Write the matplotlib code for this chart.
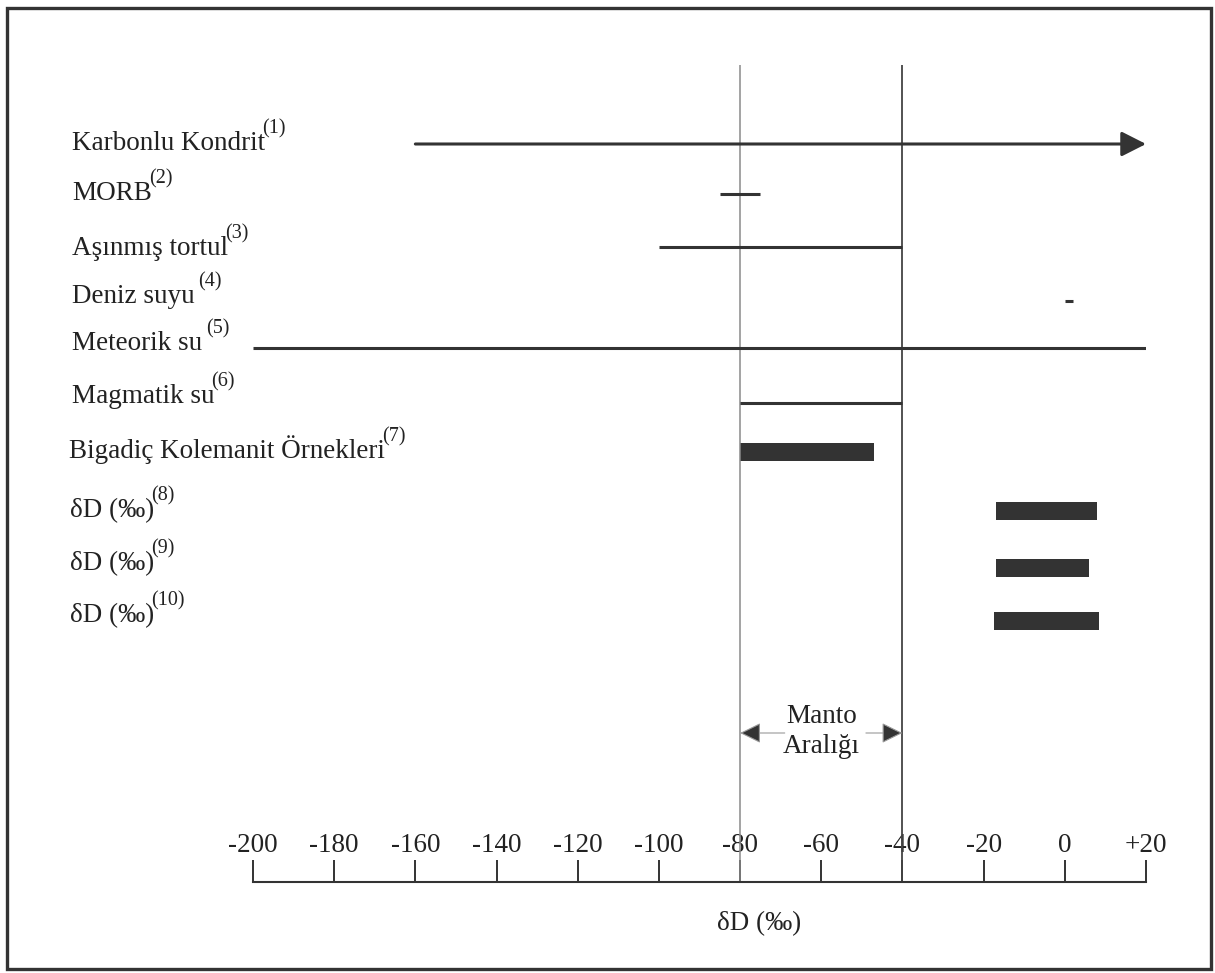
import matplotlib.pyplot as plt
from matplotlib.patches import Rectangle

plt.rcParams['font.family'] = ['Liberation Serif', 'DejaVu Serif']

# data (dD per mil ranges)
names = ['Karbonlu Kondrit', 'MORB', 'Aşınmış tortul', 'Deniz suyu ', 'Meteorik su ',
         'Magmatik su', 'Bigadiç Kolemanit Örnekleri', 'δD (‰)', 'δD (‰)', 'δD (‰)']
refs = ['(1)', '(2)', '(3)', '(4)', '(5)', '(6)', '(7)', '(8)', '(9)', '(10)']
low = [-160, -85, -100, 0, -200, -80, -80, -17, -17, -17.5]
high = [20, -75, -40, 2, 20, -40, -47, 8, 6, 8.5]
kind = ['arrow', 'line', 'line', 'line', 'line', 'line', 'bar', 'bar', 'bar', 'bar']
ticks = [-200, -180, -160, -140, -120, -100, -80, -60, -40, -20, 0, 20]
tick_labels = ['-200', '-180', '-160', '-140', '-120', '-100', '-80', '-60', '-40', '-20', '0', '+20']
mantle = [-80, -40]

# layout (pixel rows, top = 0)
W, H = 1215, 973
row_y = [144, 194, 247, 301, 348, 403, 452, 511, 568, 621]
text_y = [150, 200, 255, 303, 350, 403, 458, 517, 570, 622]
text_x = [72, 72, 72, 72, 72, 72, 69, 70, 70, 70]
top_px, base_px = 65, 882
left_px, right_px = 253, 1146
dark = '#333333'
txt = '#222222'
fs = 19.5

fig = plt.figure(figsize=(W / 100, H / 100), dpi=100)
ax = fig.add_axes([left_px / W, (H - base_px) / H, (right_px - left_px) / W,
                   (base_px - top_px) / H])
ax.set_xlim(-200, 20)
ax.set_ylim(base_px, top_px)
for s in ['top', 'left', 'right']:
    ax.spines[s].set_visible(False)
ax.spines['bottom'].set_linewidth(1.5)
ax.spines['bottom'].set_color(dark)
ax.set_yticks([])
ax.set_xticks(ticks, tick_labels)
ax.tick_params(axis='x', direction='in', length=15.5, width=1.4, color=dark,
               pad=-35, labelsize=fs, labelcolor=txt)

# mantle range verticals
ax.axvline(mantle[0], color='#8a8a8a', lw=1.1)
ax.axvline(mantle[1], color='#444444', lw=1.3)

renderer = fig.canvas.get_renderer()
for i in range(len(names)):
    y = row_y[i]
    if kind[i] == 'arrow':
        ax.annotate('', xy=(high[i], y), xytext=(low[i], y),
                    arrowprops=dict(arrowstyle='-|>,head_length=0.75,head_width=0.38',
                                    mutation_scale=20, lw=2.2, color=dark,
                                    shrinkA=0, shrinkB=0))
    elif kind[i] == 'line':
        ax.plot([low[i], high[i]], [y, y], color=dark, lw=2.2, solid_capstyle='butt')
    else:
        ax.barh(y, high[i] - low[i], left=low[i], height=18, color=dark)
    t = fig.text(text_x[i] / W, 1 - text_y[i] / H, names[i],
                 fontsize=fs, va='baseline', ha='left', color=txt)
    bb = t.get_window_extent(renderer)
    fig.text((bb.x1 - 3) / W, 1 - (text_y[i] - 17) / H, refs[i],
             fontsize=14.5, va='baseline', ha='left', color=txt)

# Manto Araligi annotation
ya = 733
for a, b in [(mantle[0], -69), (mantle[1], -49)]:
    ax.annotate('', xy=(a, ya), xytext=(b, ya),
                arrowprops=dict(arrowstyle='-|>,head_length=0.65,head_width=0.32',
                                mutation_scale=20, lw=0.8, color='#999999', ec='#999999',
                                fc=dark, shrinkA=0, shrinkB=0))
ax.text(-60, 717, 'Manto', fontsize=fs, ha='center', va='center', color=txt)
ax.text(-60, 747, 'Aralığı', fontsize=fs, ha='center', va='center', color=txt)

ax.set_xlabel('δD (‰)', fontsize=fs, color=txt)
ax.xaxis.set_label_coords((759 - left_px) / (right_px - left_px), -0.036)

fig.patches.append(Rectangle((7 / W, 4 / H), 1204 / W, 961 / H, transform=fig.transFigure,
                             fill=False, ec=dark, lw=2.4))

fig.savefig('out.png', dpi=100)
